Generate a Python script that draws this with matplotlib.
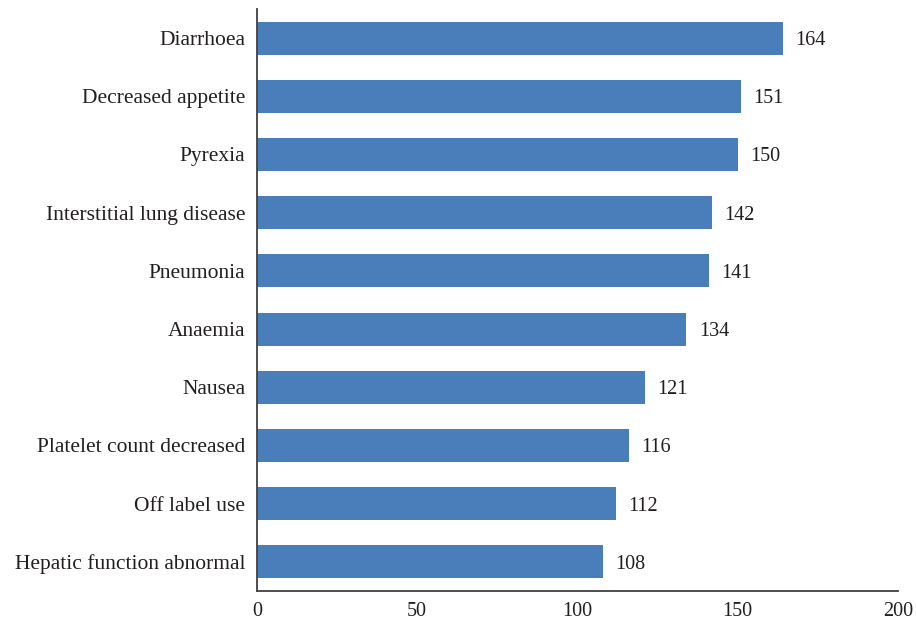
import matplotlib.pyplot as plt

categories = ["Diarrhoea", "Decreased appetite", "Pyrexia", "Interstitial lung disease",
              "Pneumonia", "Anaemia", "Nausea", "Platelet count decreased",
              "Off label use", "Hepatic function abnormal"]
counts = [164, 151, 150, 142, 141, 134, 121, 116, 112, 108]
xticks = [0, 50, 100, 150, 200]

plt.rcParams['font.family'] = ['Liberation Serif', 'DejaVu Serif']

fig = plt.figure(figsize=(9.16, 6.2), dpi=100)
ax = fig.add_axes([257/916, 1 - 591/620, (898-257)/916, (591-9)/620])

ypos = list(range(len(categories)))
ax.barh(ypos, counts, height=0.57, color='#4a7ebb')
for y, v in zip(ypos, counts):
    ax.annotate(str(v), (v, y), xytext=(9, 0), textcoords='offset points',
                va='center_baseline', ha='left', fontsize=14.5, color='#231f20')

ax.set_yticks(ypos)
ax.set_yticklabels(categories, fontsize=15.5, color='#231f20', va='center_baseline')
ax.set_xticks(xticks)
ax.set_xticklabels([str(t) for t in xticks], fontsize=14.5, color='#231f20')
ax.set_xlim(0, 200)
ax.set_ylim(len(categories) - 0.5, -0.5)
ax.tick_params(length=0)
ax.tick_params(axis='y', pad=8.5)
ax.tick_params(axis='x', pad=8)
for s in ['top', 'right']:
    ax.spines[s].set_visible(False)
for s in ['left', 'bottom']:
    ax.spines[s].set_color('#404040')
    ax.spines[s].set_linewidth(1.3)

fig.savefig('out.png', dpi=100)
